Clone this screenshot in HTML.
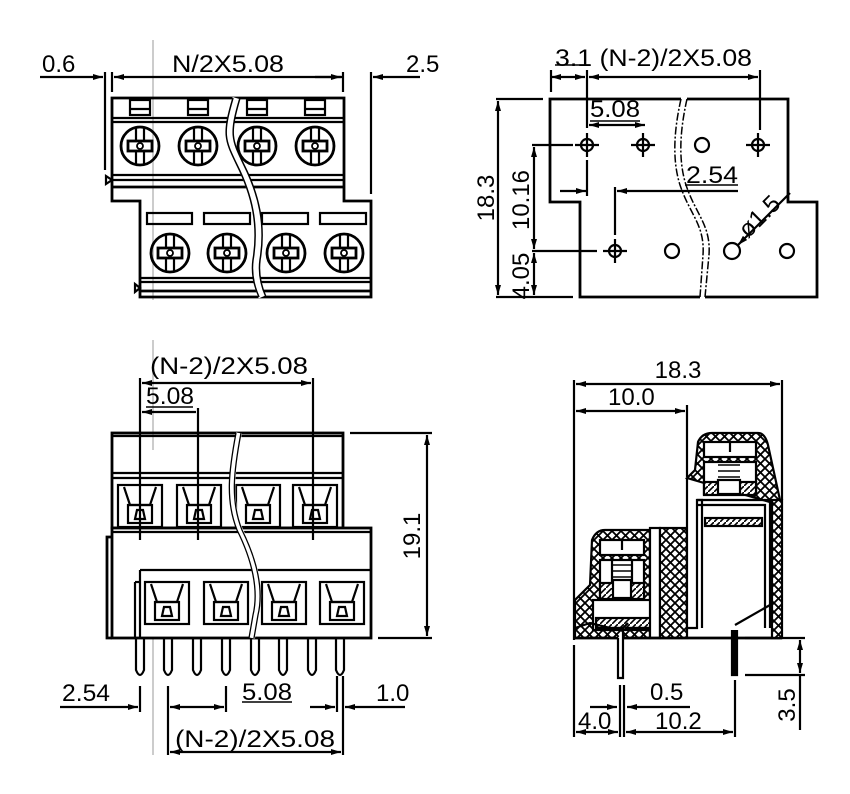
<!DOCTYPE html>
<html><head><meta charset="utf-8"><style>
html,body{margin:0;padding:0;background:#fff}
svg{display:block}
text{font-family:"Liberation Sans",sans-serif;font-size:24px;fill:#000}
</style></head><body>
<svg width="850" height="794" viewBox="0 0 850 794" xmlns="http://www.w3.org/2000/svg">
<defs>
<g id="scr" fill="none" stroke="#000">
<circle r="19" stroke-width="2.8"/>
<line x1="-4" y1="-19" x2="-4" y2="19" stroke-width="2.2"/>
<line x1="4" y1="-19" x2="4" y2="19" stroke-width="2.2"/>
<rect x="-12" y="-5" width="24" height="10" stroke-width="2.8" fill="#fff"/>
<circle r="3" stroke-width="1.8"/>
</g>
<g id="hole" fill="none" stroke="#000" stroke-width="2.2">
<circle r="6"/>
<line x1="-12" y1="0" x2="12" y2="0"/>
<line x1="0" y1="-12" x2="0" y2="12"/>
</g>
<g id="cav" fill="none" stroke="#000" stroke-width="2.2">
<rect x="0" y="0" width="44" height="42"/>
<path d="M6 2 L12 20 L32 20 L38 2"/>
<rect x="10" y="20" width="24" height="18"/>
<path d="M17 34 L19 25 L25 25 L27 34Z"/>
</g>
<g id="pin" fill="none" stroke="#000" stroke-width="2.2">
<path d="M-4 0 L-4 32 Q0 42 4 32 L4 0"/>
</g>
<pattern id="xh" width="9" height="9" patternUnits="userSpaceOnUse">
<rect width="9" height="9" fill="#fff"/>
<path d="M0 0L9 9M9 0L0 9" stroke="#000" stroke-width="1.8"/>
</pattern>
<pattern id="dh" width="6" height="6" patternUnits="userSpaceOnUse">
<rect width="6" height="6" fill="#fff"/>
<path d="M0 6L6 0" stroke="#000" stroke-width="1.6"/>
</pattern>
<marker id="a" viewBox="0 0 10 6" refX="10" refY="3" markerWidth="10" markerHeight="6" orient="auto-start-reverse" markerUnits="userSpaceOnUse"><path d="M0 0L10 3L0 6Z"/></marker>
</defs>

<g stroke="#000" fill="none" stroke-width="2.2">
<!-- ============ TOP LEFT ============ -->
<line x1="153" y1="40" x2="153" y2="300" stroke="#bbb" stroke-width="1.5"/>
<line x1="40" y1="77" x2="103" y2="77" marker-end="url(#a)"/>
<line x1="114" y1="77" x2="343" y2="77" marker-start="url(#a)"/>
<line x1="315" y1="77" x2="341" y2="77" marker-end="url(#a)"/>
<line x1="373" y1="77" x2="420" y2="77" marker-start="url(#a)"/>
<line x1="105" y1="72" x2="105" y2="170"/>
<line x1="112" y1="72" x2="112" y2="92"/>
<line x1="343" y1="72" x2="343" y2="92"/>
<line x1="371" y1="72" x2="371" y2="194"/>
<path d="M112 98 H344 V201 H371 V297 H140 V201 H112 Z" stroke-width="2.8"/>
<line x1="112" y1="118" x2="344" y2="118"/>
<line x1="112" y1="122" x2="344" y2="122"/>
<line x1="112" y1="175" x2="344" y2="175"/>
<line x1="112" y1="180" x2="344" y2="180"/>
<line x1="112" y1="187" x2="344" y2="187" stroke-width="2.8"/>
<rect x="130" y="100" width="20" height="15"/><rect x="188" y="100" width="20" height="15"/>
<rect x="247" y="100" width="20" height="15"/><rect x="305" y="100" width="20" height="15"/>
<line x1="130" y1="109" x2="150" y2="109"/><line x1="188" y1="109" x2="208" y2="109"/>
<line x1="247" y1="109" x2="267" y2="109"/><line x1="305" y1="109" x2="325" y2="109"/>
<rect x="147" y="213" width="45" height="11"/><rect x="204" y="213" width="46" height="11"/>
<rect x="262" y="213" width="46" height="11"/><rect x="320" y="213" width="46" height="11"/>
<line x1="140" y1="278" x2="371" y2="278"/>
<line x1="140" y1="282" x2="371" y2="282"/>
<line x1="140" y1="291" x2="371" y2="291" stroke-width="2.8"/>
<path d="M106 176 L112 180 L106 184Z"/>
<path d="M135 284 L140 288 L135 292Z"/>
<use href="#scr" x="140" y="146"/><use href="#scr" x="198" y="146"/>
<use href="#scr" x="257" y="146"/><use href="#scr" x="315" y="146"/>
<use href="#scr" x="170" y="253"/><use href="#scr" x="227" y="253"/>
<use href="#scr" x="286" y="253"/><use href="#scr" x="344" y="253"/>
<path d="M236 98 C225 135 228 140 240 165 C255 195 262 225 256 260 C254 275 258 288 262 297" stroke="#fff" stroke-width="7"/>
<path d="M233 98 C222 135 225 140 237 165 C252 195 259 225 253 260 C251 275 255 288 259 297" stroke-width="1.5"/>
<path d="M240 98 C229 135 232 140 244 165 C259 195 266 225 260 260 C258 275 262 288 266 297" stroke-width="1.5"/>

<!-- ============ TOP RIGHT ============ -->
<path d="M681 99 H550 V202 H580 V297 H700" stroke-width="2.8"/>
<path d="M687 99 H788 V202 H817 V297 H705" stroke-width="2.8"/>
<path d="M681 99 C674 130 672 160 680 185 C690 215 705 225 703 255 L700 297" stroke-width="1.5" stroke-dasharray="8 2 2 2"/>
<path d="M687 99 C680 130 678 160 686 185 C696 215 711 225 709 255 L705 297" stroke-width="1.5" stroke-dasharray="8 2 2 2"/>
<use href="#hole" x="587" y="145"/><use href="#hole" x="643" y="145"/><use href="#hole" x="758" y="145"/><use href="#hole" x="615" y="251"/>
<circle cx="702" cy="145" r="7"/><circle cx="672" cy="251" r="7"/><circle cx="732" cy="251" r="8"/><circle cx="787" cy="251" r="7"/>
<line x1="551" y1="70" x2="551" y2="92"/>
<line x1="587" y1="70" x2="587" y2="128"/>
<line x1="760" y1="70" x2="760" y2="130"/>
<line x1="551" y1="77" x2="585" y2="77" marker-start="url(#a)" marker-end="url(#a)"/>
<line x1="589" y1="77" x2="758" y2="77" marker-start="url(#a)" marker-end="url(#a)"/>
<line x1="555" y1="65" x2="590" y2="65" stroke-width="1.5"/>
<line x1="589" y1="125" x2="645" y2="125" marker-start="url(#a)" marker-end="url(#a)"/>
<line x1="590" y1="121" x2="640" y2="121" stroke-width="1.5"/>
<line x1="560" y1="191" x2="586" y2="191" marker-end="url(#a)"/>
<line x1="617" y1="191" x2="738" y2="191" marker-start="url(#a)"/>
<line x1="587" y1="160" x2="587" y2="196"/>
<line x1="615" y1="187" x2="615" y2="235"/>
<line x1="685" y1="185" x2="738" y2="185" stroke-width="1.5"/>
<line x1="496" y1="99" x2="543" y2="99"/>
<line x1="496" y1="297" x2="573" y2="297"/>
<line x1="532" y1="145" x2="573" y2="145"/>
<line x1="532" y1="251" x2="597" y2="251"/>
<line x1="498" y1="101" x2="498" y2="295" marker-start="url(#a)" marker-end="url(#a)"/>
<line x1="534" y1="147" x2="534" y2="249" marker-start="url(#a)" marker-end="url(#a)"/>
<line x1="534" y1="253" x2="534" y2="295" marker-start="url(#a)" marker-end="url(#a)"/>
<line x1="790" y1="193" x2="738" y2="245" marker-end="url(#a)"/>

<!-- ============ BOTTOM LEFT ============ -->
<line x1="153" y1="340" x2="153" y2="450" stroke="#bbb" stroke-width="1.5"/>
<line x1="153" y1="560" x2="153" y2="755" stroke="#bbb" stroke-width="1.5"/>
<rect x="112" y="433" width="231" height="95" stroke-width="2.8"/>
<line x1="112" y1="436" x2="343" y2="436"/>
<line x1="112" y1="473" x2="343" y2="473"/>
<line x1="112" y1="478" x2="343" y2="478"/>
<use href="#cav" x="118" y="485"/><use href="#cav" x="177" y="485"/>
<use href="#cav" x="236" y="485"/><use href="#cav" x="293" y="485"/>
<rect x="112" y="528" width="259" height="110" stroke-width="2.8" fill="#fff"/>
<line x1="112" y1="532" x2="371" y2="532"/>
<line x1="140" y1="570" x2="371" y2="570"/>
<line x1="140" y1="570" x2="140" y2="638"/>
<line x1="135" y1="582" x2="140" y2="582"/>
<line x1="135" y1="582" x2="135" y2="638"/>
<path d="M112 537 H107 V638 H112" stroke-width="2.8"/>
<use href="#cav" x="145" y="582"/><use href="#cav" x="204" y="582"/>
<use href="#cav" x="262" y="582"/><use href="#cav" x="320" y="582"/>
<use href="#pin" x="140" y="638"/><use href="#pin" x="168" y="638"/><use href="#pin" x="197" y="638"/><use href="#pin" x="226" y="638"/>
<use href="#pin" x="255" y="638"/><use href="#pin" x="283" y="638"/><use href="#pin" x="312" y="638"/><use href="#pin" x="340" y="638"/>
<path d="M239 433 C232 470 228 500 240 530 C255 560 262 590 256 615 L252 638" stroke="#fff" stroke-width="6"/>
<path d="M236 433 C229 470 225 500 237 530 C252 560 259 590 253 615 L249 638" stroke-width="1.3"/>
<path d="M241 433 C234 470 230 500 242 530 C257 560 264 590 258 615 L254 638" stroke-width="1.3"/>
<line x1="140" y1="378" x2="140" y2="540"/>
<line x1="313" y1="378" x2="313" y2="540"/>
<line x1="198" y1="408" x2="198" y2="540"/>
<line x1="142" y1="383" x2="311" y2="383" marker-start="url(#a)" marker-end="url(#a)"/>
<line x1="142" y1="412" x2="196" y2="412" marker-start="url(#a)"/>
<line x1="146" y1="407" x2="193" y2="407" stroke-width="1.5"/>
<line x1="350" y1="433" x2="432" y2="433"/>
<line x1="378" y1="638" x2="432" y2="638"/>
<line x1="427" y1="435" x2="427" y2="636" marker-start="url(#a)" marker-end="url(#a)"/>
<line x1="140" y1="686" x2="140" y2="712"/>
<line x1="168" y1="686" x2="168" y2="755"/>
<line x1="226" y1="686" x2="226" y2="712"/>
<line x1="337" y1="676" x2="337" y2="712"/>
<line x1="343" y1="676" x2="343" y2="755"/>
<line x1="60" y1="707" x2="138" y2="707" marker-end="url(#a)"/>
<line x1="170" y1="707" x2="224" y2="707" marker-start="url(#a)" marker-end="url(#a)"/>
<line x1="310" y1="707" x2="335" y2="707" marker-end="url(#a)"/>
<line x1="345" y1="707" x2="405" y2="707" marker-start="url(#a)"/>
<line x1="242" y1="702" x2="292" y2="702" stroke-width="1.5"/>
<line x1="170" y1="752" x2="341" y2="752" marker-start="url(#a)" marker-end="url(#a)"/>

<!-- ============ BOTTOM RIGHT ============ -->
<line x1="574" y1="380" x2="574" y2="640"/>
<line x1="574" y1="645" x2="574" y2="737"/>
<line x1="782" y1="380" x2="782" y2="500"/>
<line x1="687" y1="405" x2="687" y2="477"/>
<line x1="576" y1="384" x2="780" y2="384" marker-start="url(#a)" marker-end="url(#a)"/>
<line x1="576" y1="411" x2="685" y2="411" marker-start="url(#a)" marker-end="url(#a)"/>
<path d="M575 638 V600 L590 585 L592 540 Q596 530 605 530 H650 V638 Z" fill="url(#xh)" stroke-width="2.2"/>
<rect x="600" y="540" width="44" height="15" fill="#fff"/>
<line x1="622" y1="540" x2="622" y2="550"/>
<rect x="600" y="560" width="44" height="40" fill="#fff"/>
<path d="M612 560 v40 M632 560 v40" />
<path d="M613 565 h18 M613 571 h18 M613 577 h18 M613 583 h18 M613 589 h18" stroke-width="1.5"/>
<rect x="600" y="583" width="44" height="16" fill="url(#dh)"/>
<rect x="613" y="580" width="18" height="18" fill="#fff"/>
<rect x="593" y="600" width="58" height="30" fill="#fff"/>
<rect x="596" y="618" width="55" height="10" fill="url(#dh)"/>
<rect x="650" y="528" width="10" height="110" fill="#fff"/>
<rect x="660" y="528" width="27" height="110" fill="url(#xh)"/>
<path d="M575 628 L590 623 L610 628 H650" />
<line x1="574" y1="638" x2="782" y2="638" stroke-width="2.8"/>
<path d="M687 478 L695 470 L698 442 Q702 433 712 433 H758 Q765 433 768 445 L780 500 V505 Z" fill="url(#xh)"/>
<rect x="704" y="442" width="52" height="15" fill="#fff"/>
<line x1="730" y1="442" x2="730" y2="452"/>
<rect x="704" y="462" width="52" height="32" fill="#fff"/>
<path d="M718 465 h22 M718 471 h22 M718 477 h22 M718 483 h22 M718 489 h22" stroke-width="1.5"/>
<rect x="704" y="482" width="52" height="13" fill="url(#dh)"/>
<rect x="718" y="480" width="22" height="14" fill="#fff"/>
<path d="M687 478 V628 H697 V500 H702 V628" fill="#fff"/>
<path d="M697 505 H765 V628" />
<rect x="705" y="518" width="57" height="8" fill="url(#dh)"/>
<path d="M697 500 H770 V628" />
<rect x="772" y="500" width="10" height="138" fill="url(#xh)"/>
<path d="M735 625 L770 605" />
<path d="M618 638 V678 H623 V628 L628 623" fill="#fff"/>
<path d="M732 630 V675 H737 V630" fill="#000"/>
<line x1="620" y1="685" x2="620" y2="737"/>
<line x1="624" y1="685" x2="624" y2="737"/>
<line x1="735" y1="680" x2="735" y2="737"/>
<line x1="590" y1="707" x2="617" y2="707" marker-end="url(#a)"/>
<line x1="627" y1="707" x2="690" y2="707" marker-start="url(#a)"/>
<line x1="576" y1="732" x2="618" y2="732" marker-start="url(#a)" marker-end="url(#a)"/>
<line x1="626" y1="732" x2="733" y2="732" marker-start="url(#a)" marker-end="url(#a)"/>
<line x1="745" y1="638" x2="805" y2="638"/>
<line x1="745" y1="675" x2="805" y2="675"/>
<line x1="800" y1="640" x2="800" y2="673" marker-start="url(#a)" marker-end="url(#a)"/>
<line x1="800" y1="675" x2="800" y2="730"/>
</g>

<g>
<text x="42" y="72">0.6</text>
<text x="172" y="72" textLength="112" lengthAdjust="spacingAndGlyphs">N/2X5.08</text>
<text x="406" y="72">2.5</text>
<text x="555" y="66" textLength="197" lengthAdjust="spacingAndGlyphs">3.1 (N-2)/2X5.08</text>
<text x="590" y="117" textLength="50" lengthAdjust="spacingAndGlyphs">5.08</text>
<text x="686" y="183" textLength="52" lengthAdjust="spacingAndGlyphs">2.54</text>
<text transform="translate(494 198) rotate(-90)" text-anchor="middle">18.3</text>
<text transform="translate(529 200) rotate(-90)" text-anchor="middle">10.16</text>
<text transform="translate(529 276) rotate(-90)" text-anchor="middle">4.05</text>
<text transform="translate(765 222) rotate(-45)" text-anchor="middle">ø1.5</text>
<text x="150" y="374" textLength="158" lengthAdjust="spacingAndGlyphs">(N-2)/2X5.08</text>
<text x="146" y="404" textLength="48" lengthAdjust="spacingAndGlyphs">5.08</text>
<text transform="translate(420 536) rotate(-90)" text-anchor="middle">19.1</text>
<text x="62" y="701" textLength="48" lengthAdjust="spacingAndGlyphs">2.54</text>
<text x="242" y="700" textLength="50" lengthAdjust="spacingAndGlyphs">5.08</text>
<text x="376" y="701">1.0</text>
<text x="175" y="747" textLength="160" lengthAdjust="spacingAndGlyphs">(N-2)/2X5.08</text>
<text x="678" y="378" text-anchor="middle">18.3</text>
<text x="608" y="405">10.0</text>
<text x="650" y="700">0.5</text>
<text x="578" y="729">4.0</text>
<text x="655" y="729">10.2</text>
<text transform="translate(795 705) rotate(-90)" text-anchor="middle">3.5</text>
</g>
</svg>
</body></html>
